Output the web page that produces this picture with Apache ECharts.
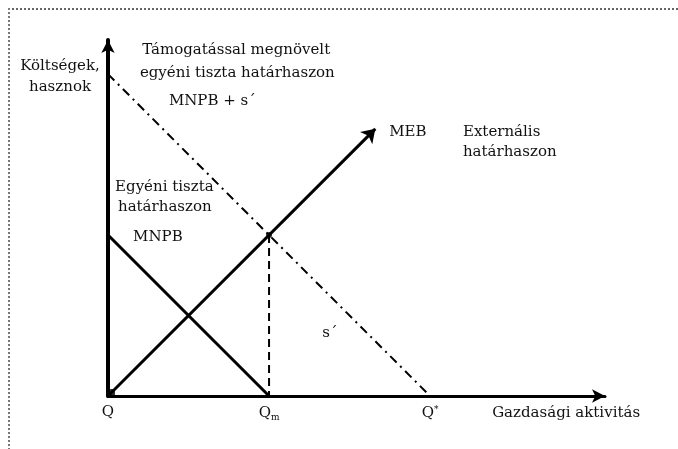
<!DOCTYPE html>
<html>
<head>
<meta charset="utf-8">
<script src="https://cdn.jsdelivr.net/npm/echarts@6/dist/echarts.min.js"></script>
<style>
html,body{margin:0;padding:0;background:#fff;}
#wrap{position:relative;width:678px;height:449px;}
#chart{position:absolute;left:0;top:0;width:678px;height:449px;}
#frame{position:absolute;left:8px;top:8px;width:700px;height:460px;border-top:2px dotted #666;border-left:2px dotted #777;pointer-events:none;}
</style>
</head>
<body>
<div id="wrap"><div id="chart"></div><div id="frame"></div></div>
<script>
// ---- data ----
const xTickValues = [0, 5, 10];
const xTickLabels = ['Q', 'Q_m', 'Q*'];
const mnpbX = [0, 5];
const mnpbY = [5, 0];
const mebX = [0, 8.3];
const mebY = [0, 8.3];
const subsidyX = [0, 10];
const subsidyY = [10, 0];
const dropX = [5, 5];
const dropY = [5, 0];
const noteTexts = [
  'Támogatással megnövelt',
  'egyéni tiszta határhaszon',
  'MNPB + s´',
  'Költségek,',
  'hasznok',
  'MEB',
  'Externális',
  'határhaszon',
  'Egyéni tiszta',
  'határhaszon',
  'MNPB',
  's´',
  'Gazdasági aktivitás'
];

// ---- layout (annotation anchors in data units) ----
const noteAnchors = [
  [1.06, 10.75, 'left'],
  [0.99, 10.03, 'left'],
  [1.89, 9.16, 'left'],
  [-1.49, 10.25, 'center'],
  [-1.49, 9.6, 'center'],
  [8.73, 8.2, 'left'],
  [11.02, 8.2, 'left'],
  [11.02, 7.58, 'left'],
  [0.22, 6.49, 'left'],
  [0.31, 5.87, 'left'],
  [0.78, 4.94, 'left'],
  [6.65, 1.96, 'left'],
  [16.52, -0.53, 'right']
];

const FONT = 'DejaVu Serif';
const pairs = (xs, ys) => xs.map((x, i) => [x, ys[i]]);

const chart = echarts.init(document.getElementById('chart'), null, {renderer: 'canvas'});
chart.setOption({
  animation: false,
  backgroundColor: '#fff',
  grid: {left: 108, right: 73, top: 40, bottom: 53, containLabel: false},
  xAxis: {
    type: 'value', min: 0, max: 15.43, interval: 5,
    axisLine: {show: true, lineStyle: {color: '#000', width: 3}, symbol: ['none', 'arrow'], symbolSize: [10, 13]},
    axisTick: {show: false}, splitLine: {show: false},
    axisLabel: {
      margin: 9,
      formatter: function (v) {
        const i = xTickValues.indexOf(v);
        if (i < 0) return '';
        const t = xTickLabels[i];
        if (t.indexOf('_') >= 0) { const p = t.split('_'); return '{q|' + p[0] + '}{sub|' + p[1] + '}'; }
        if (t.indexOf('*') >= 0) { return '{q|' + t.replace('*', '') + '}{sup|*}'; }
        return '{q|' + t + '}';
      },
      rich: {
        q: {fontFamily: FONT, fontSize: 15, color: '#111'},
        sub: {fontFamily: FONT, fontSize: 9, color: '#111', verticalAlign: 'bottom', padding: [8, 0, 0, 0]},
        sup: {fontFamily: FONT, fontSize: 9, color: '#111', verticalAlign: 'top', padding: [0, 0, 8, 0]}
      }
    }
  },
  yAxis: {
    type: 'value', min: 0, max: 11.06,
    axisLine: {show: true, lineStyle: {color: '#000', width: 4}, symbol: ['none', 'arrow'], symbolSize: [10, 13]},
    axisTick: {show: false}, splitLine: {show: false}, axisLabel: {show: false}
  },
  series: [
    {type: 'line', data: pairs(subsidyX, subsidyY), symbol: 'none', lineStyle: {color: '#000', width: 2, type: [9, 5, 2, 5]}, z: 2},
    {type: 'line', data: pairs(dropX, dropY), symbol: 'none', lineStyle: {color: '#000', width: 2, type: [8, 5]}, z: 2},
    {type: 'line', data: pairs(mnpbX, mnpbY), symbol: 'none', lineStyle: {color: '#000', width: 3}, z: 3},
    {type: 'lines', coordinateSystem: 'cartesian2d', symbol: ['none', 'arrow'], symbolSize: 13,
      lineStyle: {color: '#000', width: 3, opacity: 1, curveness: 0},
      data: [{coords: pairs(mebX, mebY)}], z: 3},
    {type: 'scatter', data: [[dropX[0], dropY[0]]], symbol: 'circle', symbolSize: 6, itemStyle: {color: '#000'}, z: 4},
    {type: 'scatter', data: [[mebX[0], mebY[0]]], symbol: 'rect', symbolSize: 8, symbolOffset: [3, -3], itemStyle: {color: '#000'}, z: 4, clip: false}
  ]
});

const graphics = noteTexts.map((t, i) => {
  const a = noteAnchors[i];
  const p = chart.convertToPixel({xAxisIndex: 0, yAxisIndex: 0}, [a[0], a[1]]);
  return {
    type: 'text', x: p[0], y: p[1], z: 10,
    style: {text: t, fontFamily: FONT, fontSize: 15, fill: '#111', textAlign: a[2], textVerticalAlign: 'middle'}
  };
});
chart.setOption({graphic: graphics});
</script>
</body>
</html>
